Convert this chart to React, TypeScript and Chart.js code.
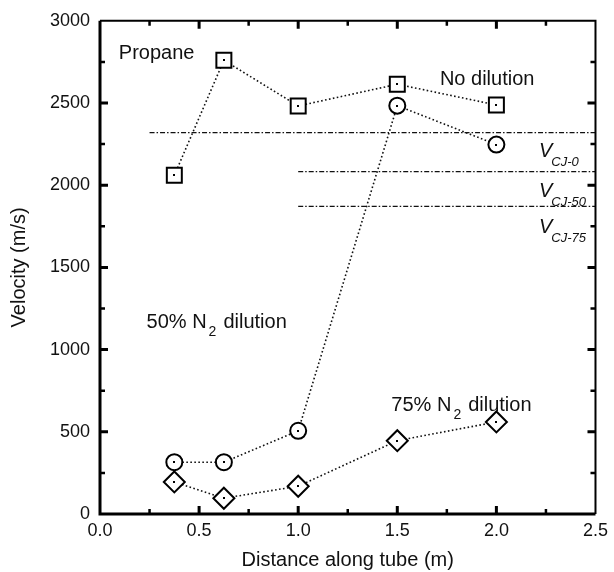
import { useEffect, useRef } from 'react';
import { Chart, registerables } from 'chart.js';

Chart.register(...registerables);

// ---- data ----
const distances = [0.375, 0.625, 1.0, 1.5, 2.0];
const noDilution = [2060, 2760, 2482, 2614, 2488];
const dilution50 = [315, 315, 506, 2484, 2247];
const dilution75 = [195, 96, 169, 446, 560];

const cjValues = [2320, 2082, 1871];
const cjStarts = [0.25, 1.0, 1.0];
const cjEnd = 2.5;
const cjSubscripts = ['CJ-0', 'CJ-50', 'CJ-75'];

const xMin = 0;
const xMax = 2.5;
const xStep = 0.5;
const yMin = 0;
const yMax = 3000;
const yStep = 500;

const FONT = '"Liberation Sans", Arial, Helvetica, sans-serif';

const pts = (ys: number[]) => distances.map((x, i) => ({ x, y: ys[i] }));

const framePlugin = {
  id: 'frameAndNotes',
  beforeDraw(chart: any) {
    const { ctx, width, height } = chart;
    ctx.save();
    ctx.fillStyle = '#fff';
    ctx.fillRect(0, 0, width, height);
    ctx.restore();
  },
  afterDatasetsDraw(chart: any) {
    const { ctx } = chart;
    ctx.save();
    ctx.fillStyle = '#000';
    [0, 1, 2].forEach((i) => {
      const meta = chart.getDatasetMeta(i);
      meta.data.forEach((p: any) => {
        ctx.fillRect(Math.round(p.x) - 1, Math.round(p.y) - 1, 2, 2);
      });
    });
    ctx.restore();
  },
  afterDraw(chart: any) {
    const { ctx, chartArea, scales } = chart;
    const { left, right, top, bottom } = chartArea;
    const xs = scales.x;
    const ys = scales.y;
    ctx.save();
    ctx.strokeStyle = '#000';
    ctx.lineCap = 'butt';
    // frame
    ctx.lineWidth = 3;
    ctx.beginPath();
    ctx.moveTo(left, top);
    ctx.lineTo(left, bottom);
    ctx.lineTo(right, bottom);
    ctx.stroke();
    ctx.lineWidth = 2;
    ctx.beginPath();
    ctx.moveTo(left, top);
    ctx.lineTo(right, top);
    ctx.lineTo(right, bottom);
    ctx.stroke();
    // y ticks (inward, both sides)
    for (let v = yMin + yStep / 2; v < yMax; v += yStep / 2) {
      const major = Math.abs(v % yStep) < 1e-6;
      const len = major ? 8 : 5;
      ctx.lineWidth = major ? 3 : 2.5;
      const py = ys.getPixelForValue(v);
      ctx.beginPath();
      ctx.moveTo(left, py);
      ctx.lineTo(left + len, py);
      ctx.moveTo(right, py);
      ctx.lineTo(right - len, py);
      ctx.stroke();
    }
    // x ticks (inward, both sides)
    for (let v = xMin + xStep / 2; v < xMax - 1e-6; v += xStep / 2) {
      const major = Math.abs((v / xStep) - Math.round(v / xStep)) < 1e-6;
      const len = major ? 8 : 5;
      ctx.lineWidth = major ? 3 : 2.5;
      const px = xs.getPixelForValue(v);
      ctx.beginPath();
      ctx.moveTo(px, bottom);
      ctx.lineTo(px, bottom - len);
      ctx.moveTo(px, top);
      ctx.lineTo(px, top + len);
      ctx.stroke();
    }

    // annotations
    ctx.fillStyle = '#111';
    ctx.textBaseline = 'alphabetic';
    ctx.textAlign = 'left';
    const main = `20px ${FONT}`;
    const sub = `14px ${FONT}`;
    const P = (x: number, y: number) => [xs.getPixelForValue(x), ys.getPixelForValue(y)];

    ctx.font = main;
    let [ax, ay] = P(0.095, 2765);
    ctx.fillText('Propane', ax, ay);
    [ax, ay] = P(1.715, 2608);
    ctx.fillText('No dilution', ax, ay);

    const n2 = (prefix: string, x: number, y: number) => {
      const [px, py] = P(x, y);
      ctx.font = main;
      ctx.fillText(prefix, px, py);
      let cx = px + ctx.measureText(prefix).width + 2;
      ctx.font = sub;
      ctx.fillText('2', cx, py + 8);
      cx += ctx.measureText('2').width + 7;
      ctx.font = main;
      ctx.fillText('dilution', cx, py);
    };
    n2('50% N', 0.235, 1133);
    n2('75% N', 1.47, 627);

    const vLabelY = [2169, 1928, 1711];
    cjSubscripts.forEach((s, i) => {
      const [px, py] = P(2.215, vLabelY[i]);
      ctx.font = `italic 20px ${FONT}`;
      ctx.fillText('V', px, py);
      const w = ctx.measureText('V').width;
      ctx.font = `italic 13px ${FONT}`;
      ctx.fillText(s, px + w - 1, py + 9);
    });
    ctx.restore();
  },
};

export default function App() {
  const ref = useRef<HTMLCanvasElement | null>(null);
  useEffect(() => {
    if (!ref.current) return;
    const markerBase = {
      showLine: true,
      borderColor: '#111',
      borderWidth: 1.6,
      borderDash: [1.6, 2.4],
      pointBackgroundColor: '#fff',
      pointBorderColor: '#000',
      pointBorderWidth: 2,
      pointHoverRadius: 0,
    };
    const datasets: any[] = [
      { ...markerBase, label: 'No dilution', data: pts(noDilution), pointStyle: 'rect', pointRadius: 10.6 },
      { ...markerBase, label: '50% N2 dilution', data: pts(dilution50), pointStyle: 'circle', pointRadius: 8 },
      { ...markerBase, label: '75% N2 dilution', data: pts(dilution75), pointStyle: 'rectRot', pointRadius: 10.5 },
      ...cjValues.map((v, i) => ({
        label: 'V' + cjSubscripts[i],
        data: [
          { x: cjStarts[i], y: v },
          { x: cjEnd, y: v },
        ],
        showLine: true,
        borderColor: '#111',
        borderWidth: 1.3,
        borderDash: [5, 2, 1.5, 2],
        pointRadius: 0,
      })),
    ];
    const chart = new Chart(ref.current, {
      type: 'scatter',
      data: { datasets },
      plugins: [framePlugin],
      options: {
        animation: false,
        responsive: false,
        events: [],
        layout: { padding: { top: 16, right: 14, left: 0, bottom: 0 } },
        plugins: { legend: { display: false }, tooltip: { enabled: false } },
        scales: {
          x: {
            type: 'linear',
            min: xMin,
            max: xMax,
            afterFit: (s: any) => {
              s.height = 58;
            },
            ticks: {
              stepSize: xStep,
              padding: 6,
              color: '#111',
              font: { size: 18, family: FONT },
              callback: (v: any) => Number(v).toFixed(1),
            },
            grid: { display: false, drawTicks: false },
            border: { display: false },
            title: {
              display: true,
              text: 'Distance along tube (m)',
              color: '#111',
              font: { size: 20, family: FONT },
              padding: { top: 0, bottom: 0 },
            },
          },
          y: {
            type: 'linear',
            min: yMin,
            max: yMax,
            afterFit: (s: any) => {
              s.width = 100;
            },
            ticks: {
              stepSize: yStep,
              padding: 10,
              color: '#111',
              font: { size: 18, family: FONT },
              callback: (v: any) => String(Math.round(Number(v))),
            },
            grid: { display: false, drawTicks: false },
            border: { display: false },
            title: {
              display: true,
              text: 'Velocity (m/s)',
              color: '#111',
              font: { size: 20, family: FONT },
              padding: { top: 7, bottom: 0 },
            },
          },
        },
      },
    });
    return () => chart.destroy();
  }, []);
  return (
    <div style={{ position: 'fixed', left: 0, top: 0, width: 614, height: 572, background: '#fff' }}>
      <canvas ref={ref} width={614} height={572} />
    </div>
  );
}
